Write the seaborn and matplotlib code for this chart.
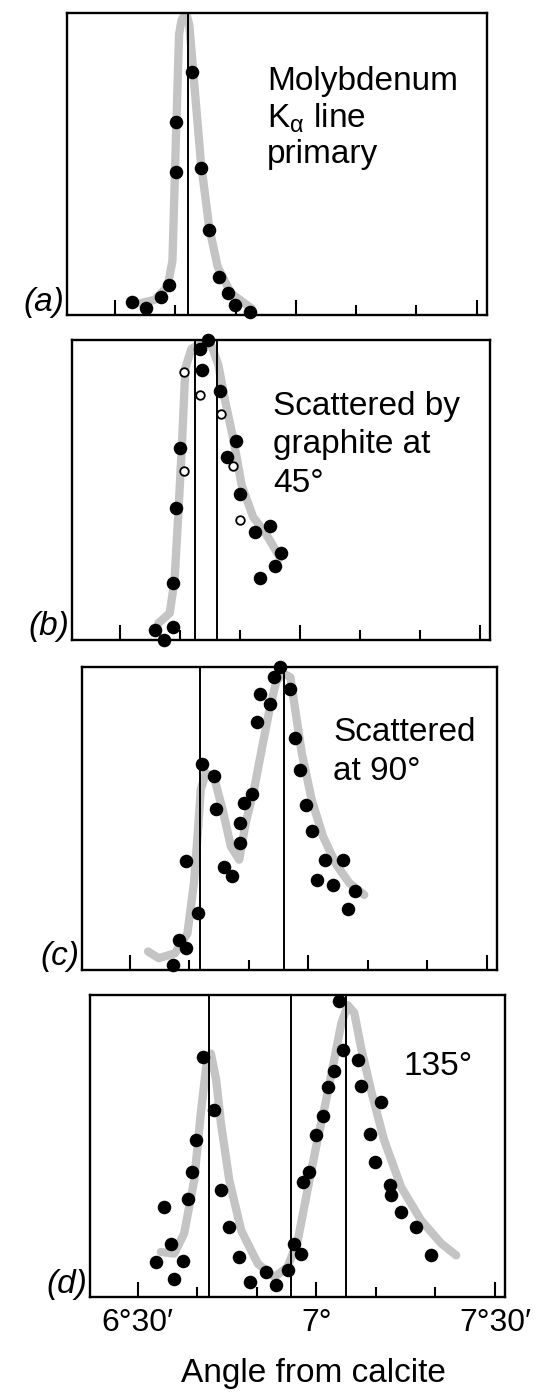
import matplotlib
matplotlib.use("Agg")
import matplotlib.pyplot as plt
import seaborn as sns
import pandas as pd

# Angles are in arc-minutes above 6 degrees (30 -> 6°30', 60 -> 7°, 90 -> 7°30').
# Intensities are relative to each panel's full height.

# (a) Molybdenum K-alpha primary line
a_angle = [32.8, 35.1, 37.6, 38.9, 40.1, 40.1, 42.8, 44.3, 45.6, 47.3, 48.7, 49.8, 52.3]
a_count = [0.044, 0.022, 0.06, 0.10, 0.475, 0.64, 0.806, 0.486, 0.28, 0.127, 0.072, 0.033, 0.011]
a_curve_angle = [34.2, 36.5, 38.7, 39.5, 40.1, 40.6, 41.0, 41.4, 41.9, 42.3, 43.1, 44.2,
                 45.6, 47.0, 49.2, 52.6]
a_curve_count = [0.039, 0.05, 0.094, 0.18, 0.60, 0.93, 0.975, 0.99, 0.99, 0.96, 0.77,
                 0.51, 0.29, 0.16, 0.072, 0.022]

# (b) scattered by graphite at 45°
b_angle = [35.8, 38.9, 37.4, 38.9, 39.4, 40.0, 43.3, 44.7, 43.6, 46.7, 49.4, 47.8,
           50.0, 55.0, 52.5, 56.9, 55.8, 53.3]
b_count = [0.034, 0.045, 0.0, 0.19, 0.44, 0.64, 0.97, 1.0, 0.90, 0.83, 0.665, 0.61,
           0.487, 0.38, 0.36, 0.29, 0.246, 0.207]
b_open_angle = [40.6, 43.3, 46.9, 48.9, 50.0, 40.6]
b_open_count = [0.895, 0.816, 0.755, 0.58, 0.40, 0.565]
b_curve_angle = [36.4, 38.3, 39.1, 39.8, 40.4, 40.9, 41.9, 43.6, 45.3, 46.4, 47.5,
                 48.9, 50.3, 52.2, 54.4, 56.7]
b_curve_count = [0.056, 0.09, 0.20, 0.447, 0.68, 0.906, 0.97, 0.99, 0.98, 0.917, 0.80,
                 0.67, 0.515, 0.41, 0.352, 0.274]

# (c) scattered at 90°
c_angle = [37.2, 38.3, 39.45, 41.4, 39.45, 42.2, 44.2, 44.45, 45.8, 47.2, 48.6, 48.6,
           49.2, 50.6, 51.4, 51.95, 53.6, 54.2, 55.3, 56.95, 57.8, 58.6, 59.7, 60.6,
           62.8, 65.8, 61.4, 64.2, 67.8, 66.7]
c_count = [0.017, 0.10, 0.072, 0.188, 0.36, 0.68, 0.64, 0.53, 0.34, 0.31, 0.42, 0.486,
           0.55, 0.58, 0.817, 0.91, 0.877, 0.966, 1.0, 0.927, 0.767, 0.66, 0.546, 0.458,
           0.364, 0.364, 0.298, 0.28, 0.26, 0.20]
c_curve_angle = [33.1, 34.9, 37.6, 39.7, 40.8, 41.4, 41.95, 42.8, 44.2, 45.6, 47.0,
                 48.4, 49.5, 50.9, 52.3, 53.5, 54.6, 55.7, 57.0, 57.8, 58.9, 60.6,
                 62.5, 64.7, 66.9, 69.4]
c_curve_count = [0.061, 0.039, 0.055, 0.12, 0.287, 0.44, 0.596, 0.65, 0.635, 0.53,
                 0.408, 0.364, 0.486, 0.596, 0.74, 0.86, 0.95, 0.98, 0.966, 0.86,
                 0.717, 0.56, 0.44, 0.348, 0.287, 0.248]

# (d) scattered at 135°
d_angle = [33.1, 36.15, 37.6, 35.6, 34.5, 38.4, 39.2, 39.8, 40.9, 42.9, 44.0, 45.4,
           47.1, 48.8, 51.6, 53.2, 55.2, 56.3, 57.4, 57.7, 58.8, 59.9, 61.1, 61.9,
           63.0, 63.9, 64.5, 67.0, 67.5, 70.9, 69.0, 69.9, 72.4, 72.6, 74.2, 76.8, 79.3]
d_count = [0.116, 0.061, 0.12, 0.177, 0.298, 0.326, 0.414, 0.52, 0.795, 0.618, 0.353,
           0.232, 0.132, 0.05, 0.083, 0.039, 0.088, 0.177, 0.144, 0.38, 0.414, 0.535,
           0.60, 0.695, 0.75, 0.98, 0.817, 0.784, 0.70, 0.646, 0.54, 0.447, 0.37,
           0.337, 0.28, 0.232, 0.138]
d_curve_angle = [33.9, 36.15, 37.8, 39.5, 40.6, 41.5, 42.3, 43.2, 44.0, 45.4, 47.4,
                 50.2, 53.0, 55.2, 56.9, 58.3, 59.97, 61.65, 63.0, 64.2, 65.3, 66.4,
                 67.5, 69.2, 71.4, 74.25, 77.6, 81.0, 83.5]
d_curve_count = [0.149, 0.144, 0.21, 0.386, 0.607, 0.76, 0.806, 0.718, 0.574, 0.386,
                 0.22, 0.11, 0.066, 0.10, 0.188, 0.331, 0.497, 0.651, 0.784, 0.905,
                 0.966, 0.94, 0.828, 0.684, 0.519, 0.364, 0.254, 0.177, 0.138]

# reference lines (arc-minutes above 6°)
a_lines = [42.0]
b_lines = [42.5, 46.1]
c_lines = [41.9, 56.0]
d_lines = [42.0, 55.8, 65.0]

panel_tags = ["(a)", "(b)", "(c)", "(d)"]
tick_angles_major = [30, 60, 90]
tick_angles_minor = [40, 50, 70, 80]
tick_labels = ["6°30′", "7°", "7°30′"]
x_title = "Angle from calcite"

sns.set_theme(style="white")
plt.rcParams["font.family"] = ["Liberation Sans", "DejaVu Sans"]
plt.rcParams["text.color"] = "black"
plt.rcParams["mathtext.fontset"] = "custom"
plt.rcParams["mathtext.rm"] = "Liberation Sans"
plt.rcParams["mathtext.it"] = "Liberation Sans"

W, H = 538, 1393
fig = plt.figure(figsize=(W / 100, H / 100), dpi=100)
fig.patch.set_facecolor("white")


def px_axes(left, top, right, bottom):
    return fig.add_axes([left / W, 1 - bottom / H, (right - left) / W, (bottom - top) / H])


def ftext(x, y, s, **kw):
    fig.text(x / W, 1 - y / H, s, color="black", **kw)


boxes = [(67, 13, 487, 315), (72, 340, 490, 640), (82, 667, 497, 970), (90, 995, 505, 1297)]
curves = [(a_curve_angle, a_curve_count), (b_curve_angle, b_curve_count),
          (c_curve_angle, c_curve_count), (d_curve_angle, d_curve_count)]
points = [(a_angle, a_count), (b_angle, b_count), (c_angle, c_count), (d_angle, d_count)]
vlines = [a_lines, b_lines, c_lines, d_lines]

axes = []
for i, box in enumerate(boxes):
    ax = px_axes(*box)
    axes.append(ax)
    curve_df = pd.DataFrame({"angle": curves[i][0], "count": curves[i][1]})
    sns.lineplot(data=curve_df, x="angle", y="count", ax=ax, sort=False,
                 color="#c4c4c4", lw=6, solid_capstyle="round",
                 solid_joinstyle="round", zorder=2)
    for v in vlines[i]:
        ax.axvline(v, color="black", lw=1.4, zorder=3)
    pt_df = pd.DataFrame({"angle": points[i][0], "count": points[i][1]})
    sns.scatterplot(data=pt_df, x="angle", y="count", ax=ax, color="black",
                    s=95, linewidth=0, zorder=4, clip_on=False)
    if i == 1:
        # open circles of panel (b)
        open_df = pd.DataFrame({"angle": b_open_angle, "count": b_open_count})
        sns.scatterplot(data=open_df, x="angle", y="count", ax=ax, facecolor="white",
                        edgecolor="black", s=38, linewidth=1.3, zorder=5)
    ax.set_xlim(22, 91.7)
    ax.set_ylim(0, 1)
    ax.set_xlabel("")
    ax.set_ylabel("")
    ax.set_yticks([])
    ax.set_xticks(tick_angles_major)
    ax.set_xticks(tick_angles_minor, minor=True)
    ax.tick_params(axis="x", which="major", direction="in", length=11, width=1.5,
                   bottom=True, top=False, color="black", labelsize=23, pad=8,
                   labelcolor="black")
    ax.tick_params(axis="x", which="minor", direction="in", length=7, width=1.5,
                   bottom=True, top=False, color="black")
    if i < 3:
        ax.set_xticklabels([])
    else:
        ax.set_xticklabels(tick_labels)
    for sp in ax.spines.values():
        sp.set_visible(True)
        sp.set_color("black")
        sp.set_linewidth(1.7)
    ax.set_facecolor("white")
    # panel tag just left of the lower-left corner
    ftext(box[0] - 3, box[3] - 13, panel_tags[i], ha="right", va="center",
          fontsize=24, style="italic")

fs = 24
ftext(267, 90, "Molybdenum", fontsize=fs, va="baseline")
ftext(267, 128, r"K$_{\alpha}$ line", fontsize=fs, va="baseline")
ftext(267, 163, "primary", fontsize=fs, va="baseline")

ftext(273, 415, "Scattered by", fontsize=fs, va="baseline")
ftext(273, 453, "graphite at", fontsize=fs, va="baseline")
ftext(273, 492, "45°", fontsize=fs, va="baseline")

ftext(333, 741, "Scattered", fontsize=fs, va="baseline")
ftext(333, 780, "at 90°", fontsize=fs, va="baseline")

ftext(403, 1075, "135°", fontsize=fs, va="baseline")

ftext(313, 1382, x_title, fontsize=fs, ha="center", va="baseline")

fig.savefig("out.png", dpi=100, facecolor="white")
